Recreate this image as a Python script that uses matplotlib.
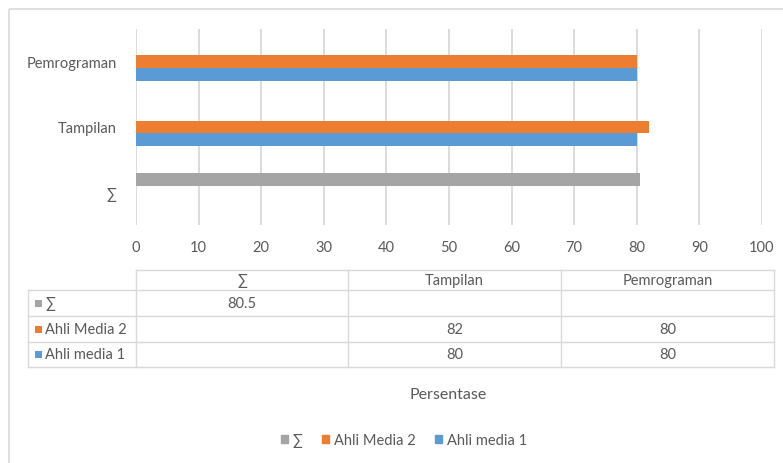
import numpy as np
import matplotlib.pyplot as plt
from matplotlib.patches import Patch, Rectangle

plt.rcParams['font.family'] = ['Lato', 'DejaVu Sans']

# data
kategori = ['∑', 'Tampilan', 'Pemrograman']
seri = ['Ahli media 1', 'Ahli Media 2', '∑']
ahli_media_1 = [np.nan, 80, 80]
ahli_media_2 = [np.nan, 82, 80]
total = [80.5, np.nan, np.nan]
xticks = list(range(0, 101, 10))

warna = ['#5B9BD5', '#ED7D31', '#A5A5A5']
abu_teks = '#595959'
abu_garis = '#D9D9D9'

W, H = 783, 464
fig = plt.figure(figsize=(W / 100, H / 100), dpi=100)

# axes grafik batang (posisi dalam piksel)
x0, x1, y0, y1 = 136, 762, 30, 226
ax = fig.add_axes([x0 / W, 1 - y1 / H, (x1 - x0) / W, (y1 - y0) / H])

h = 0.195
y = np.arange(len(kategori))
nilai = [ahli_media_1, ahli_media_2, total]
offset = [-h, 0, h]
for v, off, c, lab in zip(nilai, offset, warna, seri):
    ax.barh(y + off, v, height=h, color=c, label=lab, zorder=3)

ax.set_xlim(0, 100)
ax.set_ylim(-0.5, 2.5)
ax.set_xticks(xticks)
ax.set_yticks(y)
ax.set_yticklabels(kategori)
ax.grid(axis='x', color=abu_garis, linewidth=1.3, zorder=0)
for s in ax.spines.values():
    s.set_visible(False)
ax.tick_params(length=0, colors=abu_teks, labelsize=10.5)
ax.tick_params(axis='x', pad=11)
ax.tick_params(axis='y', pad=14)

# overlay untuk tabel, bingkai, judul
ov = fig.add_axes([0, 0, 1, 1], zorder=-1)
ov.set_xlim(0, W)
ov.set_ylim(H, 0)
ov.axis('off')

ov.add_patch(Rectangle((8.5, 9.5), 800, 500, fill=False, edgecolor=abu_garis, linewidth=1.2))

# tabel data
kol_x = [136, 348, 561, 774]
baris_y = [271, 291, 317, 343, 368]
lbl_x0 = 28
lw = 1.0
# garis horizontal
ov.plot([kol_x[0], kol_x[-1]], [baris_y[0]] * 2, color=abu_garis, lw=lw)
for yy in baris_y[1:]:
    ov.plot([lbl_x0, kol_x[-1]], [yy] * 2, color=abu_garis, lw=lw)
# garis vertikal
ov.plot([lbl_x0, lbl_x0], [baris_y[1], baris_y[-1]], color=abu_garis, lw=lw)
for xx in kol_x:
    ov.plot([xx, xx], [baris_y[0], baris_y[-1]], color=abu_garis, lw=lw)

fs = 10.5
for j, k in enumerate(kategori):
    ov.text((kol_x[j] + kol_x[j + 1]) / 2, (baris_y[0] + baris_y[1]) / 2, k,
            ha='center', va='center', color=abu_teks, fontsize=fs)

baris_tabel = [('∑', total, warna[2]), ('Ahli Media 2', ahli_media_2, warna[1]),
               ('Ahli media 1', ahli_media_1, warna[0])]
for i, (nama, vals, c) in enumerate(baris_tabel):
    yc = (baris_y[i + 1] + baris_y[i + 2]) / 2
    ov.add_patch(Rectangle((35, yc - 3.5), 7, 7, color=c, linewidth=0))
    ov.text(45, yc, nama, ha='left', va='center', color=abu_teks, fontsize=fs)
    for j, v in enumerate(vals):
        if not np.isnan(v):
            ov.text((kol_x[j] + kol_x[j + 1]) / 2, yc, f'{v:g}',
                    ha='center', va='center', color=abu_teks, fontsize=fs)

ov.text(448, 395, 'Persentase', ha='center', va='center', color=abu_teks, fontsize=11.5)

# legenda
handles = [Patch(color=warna[2], label='∑'), Patch(color=warna[1], label='Ahli Media 2'),
           Patch(color=warna[0], label='Ahli media 1')]
fig.legend(handles=handles, loc='center', bbox_to_anchor=(404 / W, 1 - 441 / H), ncol=3,
           frameon=False, handlelength=0.5, handleheight=0.5, handletextpad=0.35,
           columnspacing=1.3, labelcolor=abu_teks, fontsize=fs)

fig.savefig('out.png', dpi=100)
